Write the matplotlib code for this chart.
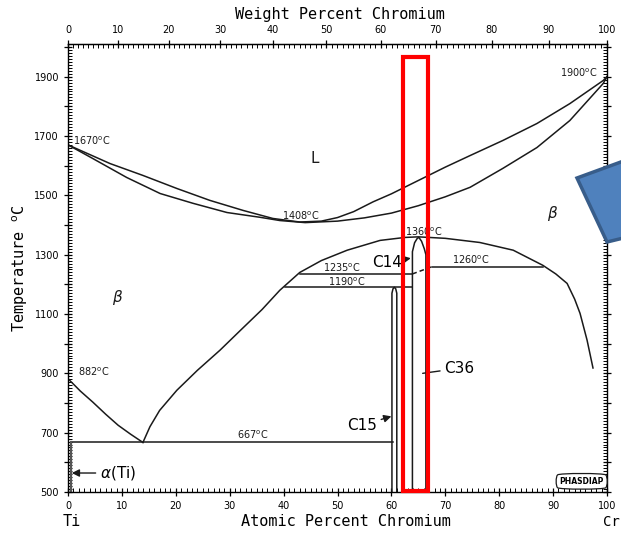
import numpy as np
import matplotlib.pyplot as plt
from matplotlib.ticker import MultipleLocator, FuncFormatter
from matplotlib.patches import Rectangle, Polygon

plt.rcParams["font.family"] = ["DejaVu Sans"]
plt.rcParams["mathtext.fontset"] = "custom"
plt.rcParams["mathtext.rm"] = "DejaVu Sans"

# liquidus and solidus (at.% Cr, deg C)
liq_x = [0, 7.8, 13.9, 20.2, 26.3, 32.5, 38, 43, 47, 50, 53, 56.6, 60, 65, 70, 74.6, 80.7, 87, 93.1, 99.3, 100]
liq_t = [1670, 1607, 1567, 1523, 1483, 1449, 1422, 1410, 1413, 1425, 1445, 1478, 1505, 1550, 1595, 1634, 1685, 1742, 1809, 1887, 1900]
sol_x = [0, 4.6, 10.9, 17.1, 23.2, 29.5, 35.6, 39.3, 44, 50, 55, 60, 65, 70, 74.6, 80.7, 87, 93.1, 99.3, 100]
sol_t = [1670, 1624, 1560, 1506, 1473, 1442, 1426, 1415, 1408, 1413, 1424, 1440, 1465, 1495, 1527, 1591, 1661, 1752, 1877, 1900]

# beta transus from Ti side to eutectoid
tr_x = [0, 2.3, 4.6, 7.0, 9.3, 11.6, 13.9]
tr_t = [882, 840, 803, 762, 725, 695, 667]

# beta / compound boundary (dome)
dome_x = [13.9, 15.2, 17, 20.2, 24, 28.2, 32, 36, 39.3, 43, 47, 51.8, 57.9, 62.5, 65, 70, 76.4, 82.6,
          88.1, 90.5, 92.6, 94, 95, 96.3, 97.4]
dome_t = [667, 720, 775, 843, 910, 978, 1045, 1115, 1180, 1240, 1280, 1315, 1348, 1358, 1360, 1355, 1341, 1315,
          1264, 1235, 1203, 1150, 1102, 1012, 918]

# C15 narrow field
c15_x = [60.1, 60.1, 60.3, 60.55, 60.8, 61.0, 61.0]
c15_t = [500, 1170, 1185, 1190, 1185, 1170, 500]

# C14 / C36 field
c36_x = [63.9, 63.9, 64.3, 64.8, 65.1, 65.6, 66.1, 66.4, 66.4]
c36_t = [500, 1310, 1340, 1355, 1358, 1345, 1320, 1300, 500]

# invariant lines: (x_start, x_end, T)
iso_lines = [(0.5, 60.3, 667), (40.3, 63.9, 1190), (43, 63.9, 1235), (67.6, 88.1, 1260)]

# labels: (text, x, T, size, ha)
temp_labels = [
    (r"1670$^{\rm o}$C", 0.9, 1685, 7, "left"),
    (r"1408$^{\rm o}$C", 39.7, 1432, 7, "left"),
    (r"1900$^{\rm o}$C", 98.3, 1914, 7, "right"),
    (r"1360$^{\rm o}$C", 62.5, 1378, 7, "left"),
    (r"1235$^{\rm o}$C", 47.3, 1254, 7, "left"),
    (r"1190$^{\rm o}$C", 48.2, 1207, 7, "left"),
    (r"1260$^{\rm o}$C", 71.2, 1281, 7, "left"),
    (r"882$^{\rm o}$C", 1.9, 904, 7, "left"),
    (r"667$^{\rm o}$C", 31.4, 692, 7, "left"),
]
phase_labels = [
    ("L", 45.8, 1624, 11, "center"),
    (r"$\beta$", 9.3, 1156, 11, "center"),
    (r"$\beta$", 90, 1439, 11, "center"),
]


def at2wt(a):
    a = np.asarray(a, dtype=float)
    return a * 52.00 / (a * 52.00 + (100 - a) * 47.87) * 100


def wt2at(w):
    w = np.asarray(w, dtype=float)
    return (w / 52.00) / (w / 52.00 + (100 - w) / 47.87) * 100


fig = plt.figure(figsize=(6.21, 5.35), dpi=100)
ax = fig.add_axes([68 / 621, 43 / 535, 539 / 621, 448 / 535])
ax.set_xlim(0, 100)
ax.set_ylim(500, 2010)

lw = 1.1
k = "#1a1a1a"
ax.plot(liq_x, liq_t, color=k, lw=lw)
ax.plot(sol_x, sol_t, color=k, lw=lw)
ax.plot(tr_x, tr_t, color=k, lw=lw)
ax.plot(dome_x, dome_t, color=k, lw=lw)
ax.plot(c15_x, c15_t, color=k, lw=lw)
ax.plot(c36_x, c36_t, color=k, lw=lw)
for x0, x1, t in iso_lines:
    ax.plot([x0, x1], [t, t], color=k, lw=lw)
ax.plot([63.9, 67.6], [1235, 1260], color=k, lw=lw, ls=(0, (3, 2)))
ax.plot([0.5, 0.5], [500, 667], color="#555555", lw=1.6)

for txt, x, t, fs, ha in temp_labels + phase_labels:
    ax.text(x, t, txt, fontsize=fs, ha=ha, va="center", color=k)

# phase names with leaders
ax.annotate("C14", xy=(63.6, 1288), xytext=(56.4, 1274), fontsize=11, va="center",
            arrowprops=dict(arrowstyle="-|>", color=k, lw=1.0, shrinkA=1, shrinkB=0))
ax.annotate("C15", xy=(60.0, 755), xytext=(51.8, 725), fontsize=11, va="center",
            arrowprops=dict(arrowstyle="-|>", color=k, lw=1.0, shrinkA=1, shrinkB=0))
ax.annotate("C36", xy=(65.8, 900), xytext=(69.8, 917), fontsize=11, va="center",
            arrowprops=dict(arrowstyle="-", color=k, lw=1.0, shrinkA=1, shrinkB=0))
ax.annotate(r"$\alpha$(Ti)", xy=(0.7, 564), xytext=(5.9, 564), fontsize=11, va="center",
            arrowprops=dict(arrowstyle="-|>", color=k, lw=1.0, shrinkA=1, shrinkB=0))

ax.text(95.3, 536, "PHASDIAP", fontsize=5.5, ha="center", va="center", fontweight="bold",
        bbox=dict(boxstyle="round4,pad=0.5", fc="white", ec=k, lw=0.9))

# axes styling
ax.xaxis.set_major_locator(MultipleLocator(10))
ax.xaxis.set_minor_locator(MultipleLocator(1))
ax.yaxis.set_major_locator(MultipleLocator(100))
ax.yaxis.set_minor_locator(MultipleLocator(10))
ax.yaxis.set_major_formatter(FuncFormatter(lambda v, p: f"{int(v)}" if int(v) % 200 == 100 else ""))
ax.tick_params(which="major", direction="inout", length=6, width=0.9, labelsize=7,
               right=True, top=False)
ax.tick_params(which="minor", direction="in", length=3, width=0.7, right=True, top=False)
for s in ax.spines.values():
    s.set_linewidth(1.0)

sec = ax.secondary_xaxis("top", functions=(at2wt, wt2at))
sec.xaxis.set_major_locator(MultipleLocator(10))
sec.xaxis.set_minor_locator(MultipleLocator(1))
sec.tick_params(which="major", direction="inout", length=6, width=0.9, labelsize=7)
sec.tick_params(which="minor", direction="in", length=3, width=0.7)

mono = "DejaVu Sans Mono"
fig.text(340 / 621, 1 - 14 / 535, "Weight Percent Chromium", family=mono, fontsize=11,
         ha="center", va="center")
fig.text(346 / 621, 1 - 522 / 535, "Atomic Percent Chromium", family=mono, fontsize=11,
         ha="center", va="center")
fig.text(72 / 621, 1 - 522 / 535, "Ti", family=mono, fontsize=11, ha="center", va="center")
fig.text(620 / 621, 1 - 522 / 535, "Cr", family=mono, fontsize=10, ha="right", va="center")
fig.text(20 / 621, 1 - 268 / 535, r"Temperature $^{\rm o}$C", family=mono, fontsize=11,
         rotation=90, ha="center", va="center")

# highlight box
ax.add_patch(Rectangle((62.2, 503), 4.6, 1464, fill=False, ec="#ff0000", lw=3.0,
                       clip_on=False, zorder=5))

# blue arrow shape at right edge
pts = [(577, 178), (640, 155), (640, 234), (607, 242)]
fig.patches.append(Polygon([(x / 621, 1 - y / 535) for x, y in pts], closed=True,
                           transform=fig.transFigure, fc="#4f81bd", ec="#385d8a", lw=2.5,
                           zorder=10))

fig.savefig("out.png", dpi=100)
